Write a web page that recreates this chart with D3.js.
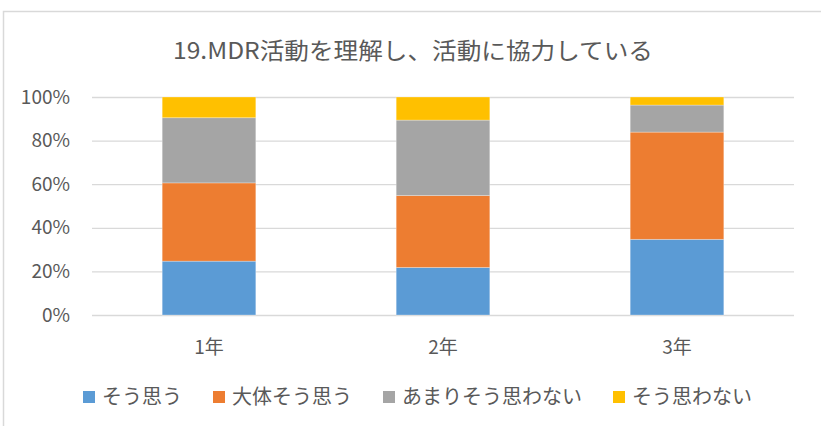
<!DOCTYPE html>
<meta charset="utf-8">
<style>
  body { margin: 0; background: #fff; }
  text { font-family: "Noto Sans CJK JP", "Noto Sans", sans-serif; fill: #595959; }
</style>
<svg width="821" height="426"></svg>
<script src="https://d3js.org/d3.v7.min.js"></script>
<script>

var title = "19.MDR活動を理解し、活動に協力している";
var years = ["1年", "2年", "3年"];
var seriesNames = ["そう思う", "大体そう思う", "あまりそう思わない", "そう思わない"];
var seriesColors = ["#5b9bd5", "#ed7d31", "#a5a5a5", "#ffc000"];
var sooMou = [24.7, 21.8, 34.7];
var daitai = [35.9, 33.0, 49.2];
var amari = [29.9, 34.6, 12.4];
var omowanai = [9.5, 10.6, 3.7];
var yTicks = [0, 20, 40, 60, 80, 100];

var svg = d3.select("svg"),
    margin = {top: 97, right: 27, bottom: 111, left: 92},
    width = +svg.attr("width") - margin.left - margin.right,
    height = +svg.attr("height") - margin.top - margin.bottom;

// chart frame (only top and left edges are visible in the picture)
svg.append("path")
    .attr("d", "M3.5,426V11.5H821")
    .attr("fill", "none")
    .attr("stroke", "#d9d9d9")
    .attr("stroke-width", 1.5);

svg.append("text")
    .attr("x", 413)
    .attr("y", 59)
    .attr("text-anchor", "middle")
    .attr("font-size", 23)
    .attr("textLength", 480)
    .attr("lengthAdjust", "spacingAndGlyphs")
    .text(title);

var g = svg.append("g").attr("transform", "translate(" + margin.left + "," + margin.top + ")");

var rows = years.map(function(y, i) {
  return {year: y, s0: sooMou[i], s1: daitai[i], s2: amari[i], s3: omowanai[i]};
});
var stack = d3.stack().keys(["s0", "s1", "s2", "s3"]);
var layers = stack(rows);

var x = d3.scaleBand()
    .domain(years)
    .range([0, width])
    .paddingInner(0.6)
    .paddingOuter(0.3);

var y = d3.scaleLinear()
    .domain([0, 100])
    .range([height, 0]);

g.append("g")
  .selectAll("line")
  .data(yTicks)
  .enter().append("line")
    .attr("x1", 0)
    .attr("x2", width)
    .attr("y1", function(d) { return y(d) + 0.5; })
    .attr("y2", function(d) { return y(d) + 0.5; })
    .attr("stroke", "#d9d9d9")
    .attr("stroke-width", 1.3);

g.append("g")
  .selectAll("text")
  .data(yTicks)
  .enter().append("text")
    .attr("x", -22)
    .attr("y", function(d) { return y(d); })
    .attr("dy", "0.35em")
    .attr("text-anchor", "end")
    .attr("font-size", 19)
    .text(function(d) { return d + "%"; });

g.append("g")
  .selectAll("g")
  .data(layers)
  .enter().append("g")
    .attr("fill", function(d, i) { return seriesColors[i]; })
  .selectAll("rect")
  .data(function(d) { return d; })
  .enter().append("rect")
    .attr("x", function(d) { return x(d.data.year); })
    .attr("y", function(d) { return y(d[1]); })
    .attr("width", x.bandwidth())
    .attr("height", function(d) { return y(d[0]) - y(d[1]); })
    .attr("stroke", "#ffffff")
    .attr("stroke-opacity", 0.35)
    .attr("stroke-width", 0.8);

g.append("g")
  .selectAll("text")
  .data(years)
  .enter().append("text")
    .attr("x", function(d) { return x(d) + x.bandwidth() / 2; })
    .attr("y", height + 39)
    .attr("text-anchor", "middle")
    .attr("font-size", 19)
    .text(function(d) { return d; });

// legend, laid out left to right and centred
var legend = svg.append("g");
var items = legend.selectAll("g")
    .data(seriesNames)
  .enter().append("g");

items.append("rect")
    .attr("width", 12)
    .attr("height", 12)
    .attr("y", -6)
    .attr("fill", function(d, i) { return seriesColors[i]; });

items.append("text")
    .attr("x", 19)
    .attr("dy", "0.35em")
    .attr("font-size", 20)
    .text(function(d) { return d; });

var lx = 0;
items.each(function() {
  var w = this.getBBox().width;
  d3.select(this).attr("transform", "translate(" + lx + ",0)");
  lx += w + 31;
});
lx -= 31;
legend.attr("transform", "translate(" + (417.5 - lx / 2) + ",397)");

</script>
